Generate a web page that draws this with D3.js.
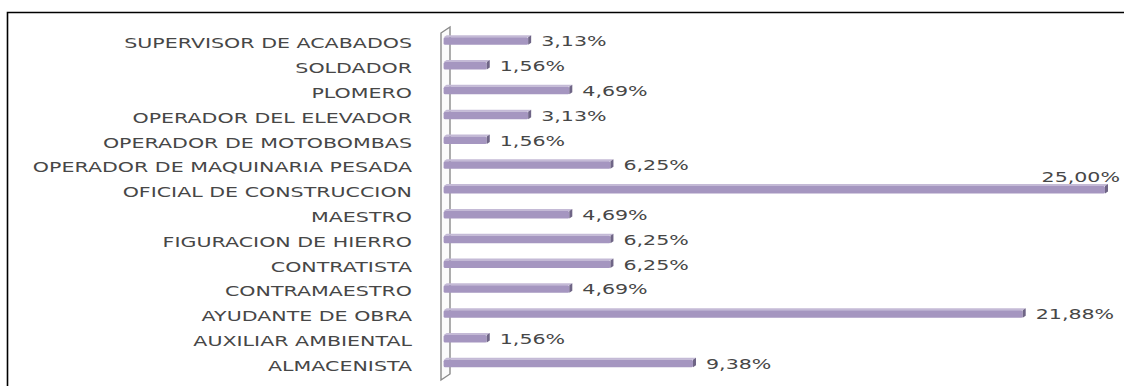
<!DOCTYPE html>
<html>
<head>
<meta charset="utf-8">
<script src="https://cdn.jsdelivr.net/npm/d3@7"></script>
<style>
  html, body { margin: 0; padding: 0; background: #fff; }
  svg { display: block; }
  text { font-family: "DejaVu Sans", Verdana, sans-serif; fill: #474747; }
</style>
</head>
<body>
<svg id="chart" width="1124" height="386"></svg>
<script>
// Occupations, top to bottom
const categories = [
  "SUPERVISOR DE ACABADOS",
  "SOLDADOR",
  "PLOMERO",
  "OPERADOR DEL ELEVADOR",
  "OPERADOR DE MOTOBOMBAS",
  "OPERADOR DE MAQUINARIA PESADA",
  "OFICIAL DE CONSTRUCCION",
  "MAESTRO",
  "FIGURACION DE HIERRO",
  "CONTRATISTA",
  "CONTRAMAESTRO",
  "AYUDANTE DE OBRA",
  "AUXILIAR AMBIENTAL",
  "ALMACENISTA"
];
// Share of workers per occupation (%)
const values = [3.13, 1.56, 4.69, 3.13, 1.56, 6.25, 25.00, 4.69, 6.25, 6.25, 4.69, 21.88, 1.56, 9.38];
const valueLabels = ["3,13%", "1,56%", "4,69%", "3,13%", "1,56%", "6,25%", "25,00%", "4,69%", "6,25%", "6,25%", "4,69%", "21,88%", "1,56%", "9,38%"];

const svg = d3.select("#chart");
const data = categories.map((c, i) => ({ cat: c, v: values[i], label: valueLabels[i] }));

const x = d3.scaleLinear().domain([0, 25]).range([448.6, 1108]);
const y = d3.scalePoint().domain(categories).range([40, 362.5]);

const stretch = 1.42;   // wide lettering
const fontSize = 14.5;
const barH = 7.5;
const depth = 3;

// outer frame
svg.append("path")
  .attr("d", "M7.5,390 L7.5,12.5 L1130,12.5")
  .attr("fill", "none").attr("stroke", "#000").attr("stroke-width", 1.6);

// side wall of the 3-D plot area
const wallTop = 27, wallBot = 374, front = 441, back = 450, drop = 6;
svg.append("path")
  .attr("d", `M${front},${wallTop + drop} L${back},${wallTop} L${back},${wallBot} L${front},${wallBot + drop} Z`)
  .attr("fill", "#fbfbfb").attr("stroke", "#8a8a8a").attr("stroke-width", 1.4);

// category labels
svg.append("g").selectAll("text")
  .data(data).join("text")
  .attr("transform", d => `translate(412,${y(d.cat) + 3}) scale(${stretch},1)`)
  .attr("text-anchor", "end")
  .attr("dominant-baseline", "central")
  .attr("font-size", fontSize)
  .text(d => d.cat);

// bars: top face, front face, end cap
const bars = svg.append("g").selectAll("g")
  .data(data).join("g");

bars.append("path")
  .attr("d", d => {
    const x0 = x(0) - 5, x1 = x(d.v) - depth, t = y(d.cat) - barH / 2 + 1;
    return `M${x0 + depth},${t - depth + 1} L${x1 + depth},${t - depth + 1} L${x1},${t} L${x0},${t} Z`;
  })
  .attr("fill", "#c4bad6");

bars.append("rect")
  .attr("x", x(0) - 5)
  .attr("y", d => y(d.cat) - barH / 2 + 1)
  .attr("width", d => x(d.v) - depth - (x(0) - 5))
  .attr("height", barH)
  .attr("rx", 1.5)
  .attr("fill", "#a596c0");

bars.append("path")
  .attr("d", d => {
    const x1 = x(d.v) - depth, t = y(d.cat) - barH / 2 + 1;
    return `M${x1},${t} L${x1 + depth},${t - depth + 1} L${x1 + depth},${t + barH - depth + 1} L${x1},${t + barH} Z`;
  })
  .attr("fill", "#6f6586");

// value labels
svg.append("g").selectAll("text")
  .data(data).join("text")
  .attr("transform", d => d.v >= 25
    ? `translate(${x(d.v) + 12},${y(d.cat) - 12}) scale(${stretch},1)`
    : `translate(${x(d.v) + 10},${y(d.cat) + 1}) scale(${stretch},1)`)
  .attr("text-anchor", d => d.v >= 25 ? "end" : "start")
  .attr("dominant-baseline", "central")
  .attr("font-size", fontSize)
  .text(d => d.label);
</script>
</body>
</html>
